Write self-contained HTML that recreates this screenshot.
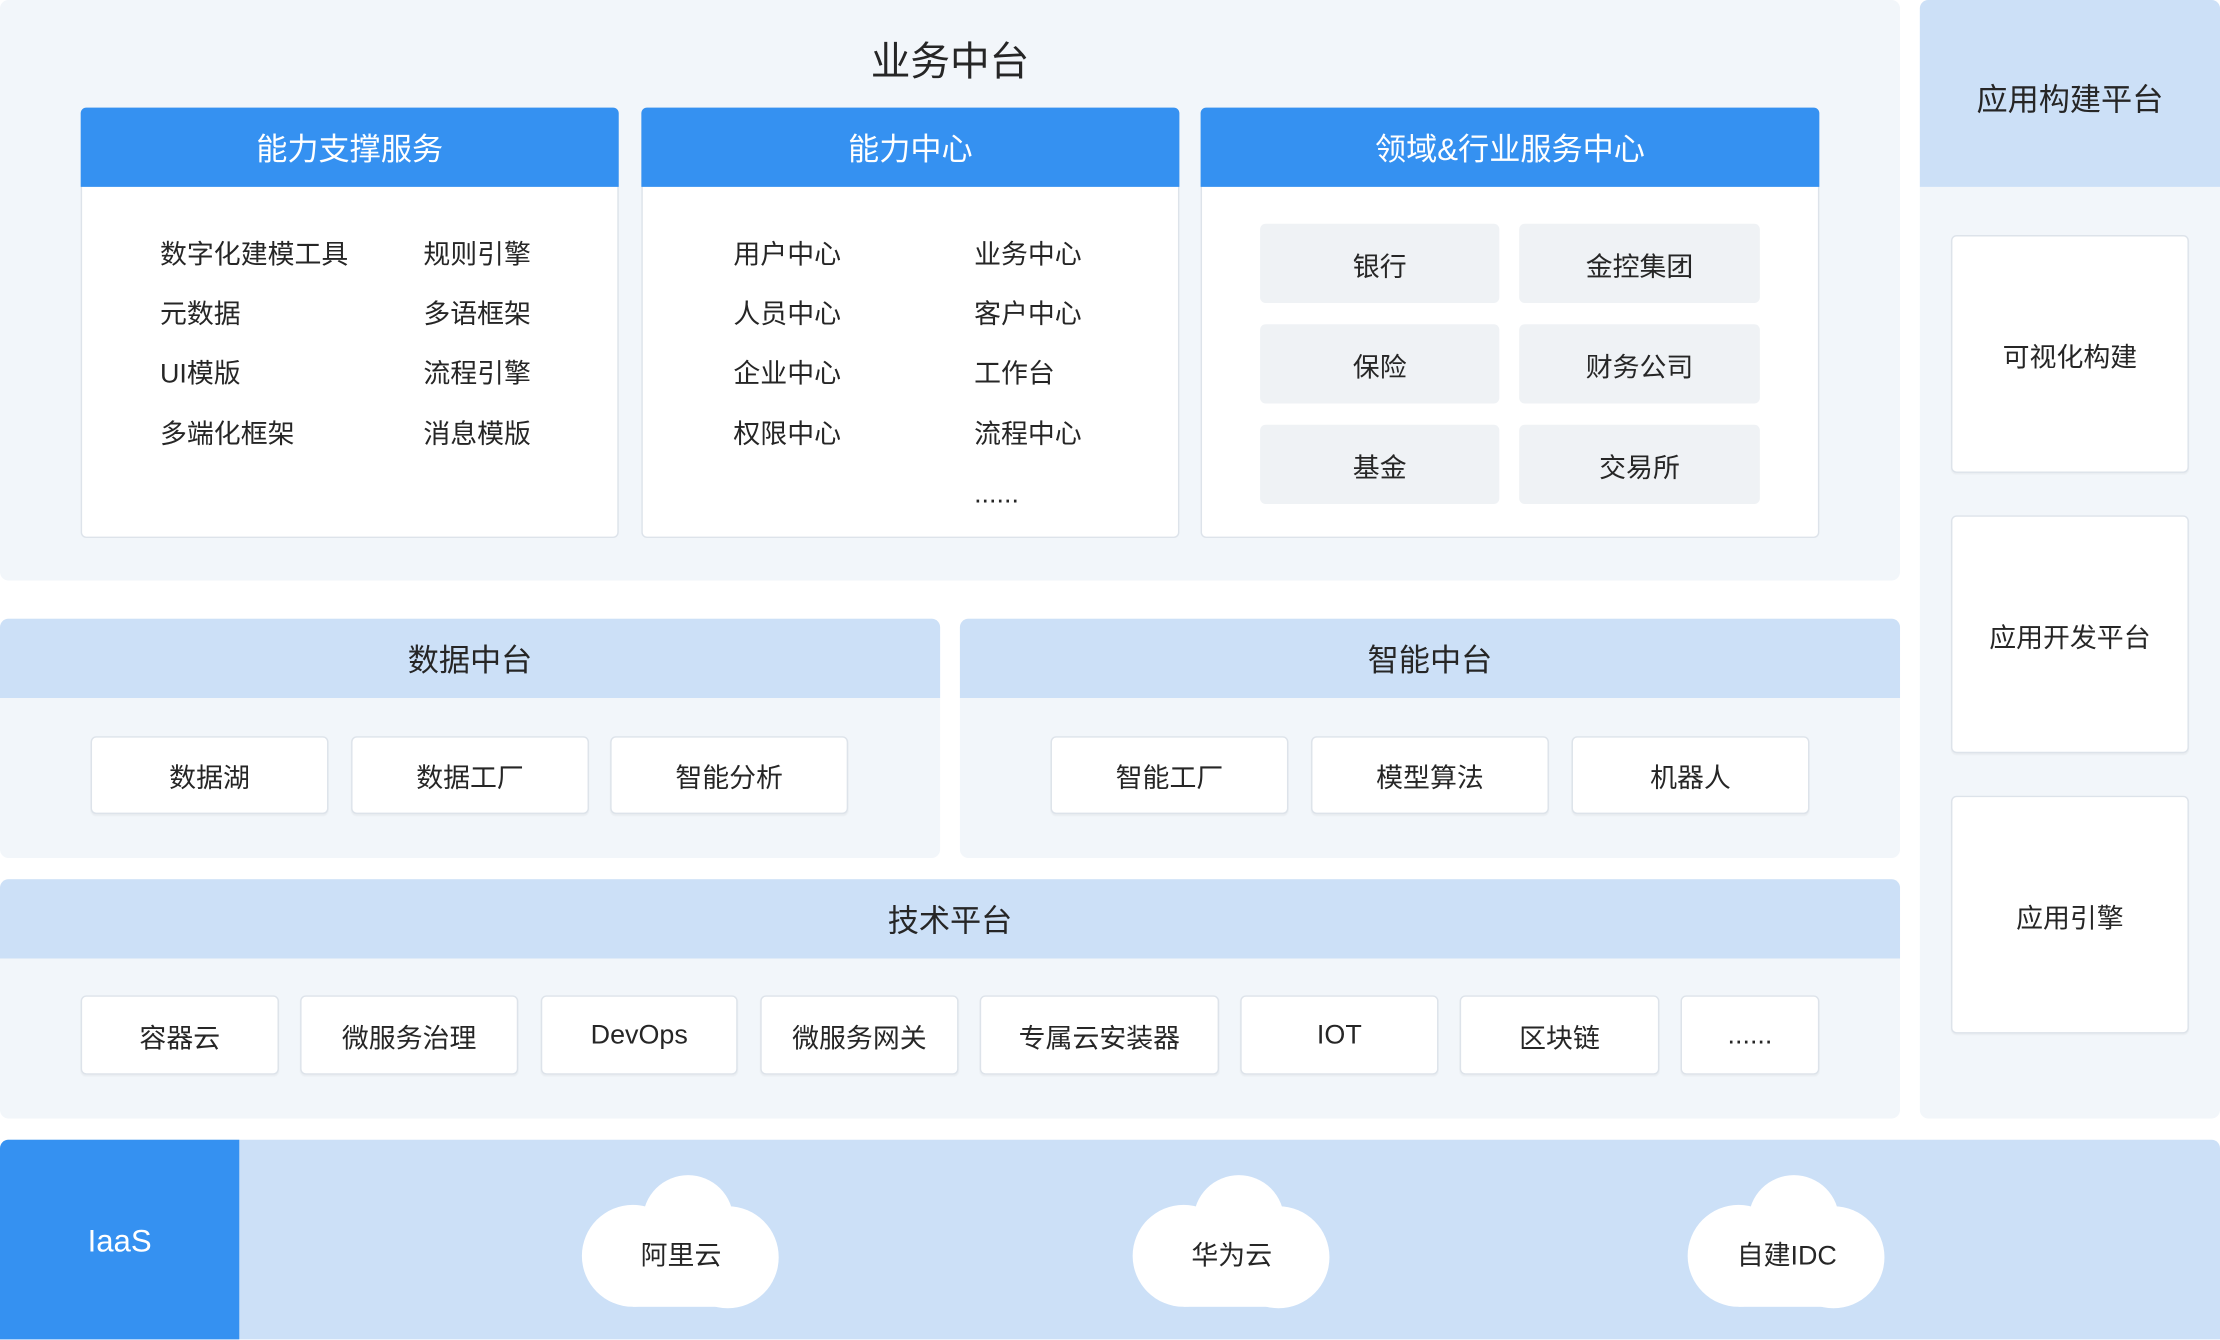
<!DOCTYPE html>
<html><head><meta charset="utf-8"><style>
body{margin:0;width:2220px;height:1340px;overflow:hidden;background:#fff;}
#c{position:absolute;left:0;top:0;width:1568px;height:946px;transform:scale(1.41582);transform-origin:0 0;font-family:"Liberation Sans","Noto Sans CJK SC",sans-serif;color:#262626;}
.a{position:absolute;box-sizing:border-box;}
.p{background:#f2f6fa;border-radius:6px;}
.h{background:#cce0f7;display:flex;align-items:center;justify-content:center;font-size:22px;}
.bh{background:#3591f1;color:#fff;display:flex;align-items:center;justify-content:center;font-size:22px;border-radius:4px 4px 0 0;}
.card{background:#fff;border:1px solid #dde3ea;border-radius:4px;}
.b{background:#fff;border:1px solid #dde3ea;border-radius:4px;display:flex;align-items:center;justify-content:center;font-size:19px;box-shadow:0 1px 1px rgba(0,0,0,.04);padding-top:2px;}
.g{background:#eff2f5;border-radius:4px;display:flex;align-items:center;justify-content:center;font-size:19px;padding-top:2px;}
.t{position:absolute;font-size:19px;line-height:24px;transform:translateY(-9px);white-space:nowrap;}
</style></head><body><div id="c">
<div class="a p" style="left:0;top:0;width:1342px;height:410px"></div>
<div class="a" style="left:0;top:22px;width:1342px;text-align:center;font-size:28px">业务中台</div>

<div class="a card" style="left:57px;top:76px;width:380px;height:304px"></div>
<div class="a bh" style="left:57px;top:76px;width:380px;height:56px">能力支撑服务</div>
<div class="t" style="left:113px;top:178px">数字化建模工具</div><div class="t" style="left:299px;top:178px">规则引擎</div>
<div class="t" style="left:113px;top:220px">元数据</div><div class="t" style="left:299px;top:220px">多语框架</div>
<div class="t" style="left:113px;top:262px">UI模版</div><div class="t" style="left:299px;top:262px">流程引擎</div>
<div class="t" style="left:113px;top:305px">多端化框架</div><div class="t" style="left:299px;top:305px">消息模版</div>

<div class="a card" style="left:453px;top:76px;width:380px;height:304px"></div>
<div class="a bh" style="left:453px;top:76px;width:380px;height:56px">能力中心</div>
<div class="t" style="left:518px;top:178px">用户中心</div><div class="t" style="left:688px;top:178px">业务中心</div>
<div class="t" style="left:518px;top:220px">人员中心</div><div class="t" style="left:688px;top:220px">客户中心</div>
<div class="t" style="left:518px;top:262px">企业中心</div><div class="t" style="left:688px;top:262px">工作台</div>
<div class="t" style="left:518px;top:305px">权限中心</div><div class="t" style="left:688px;top:305px">流程中心</div>
<div class="t" style="left:688px;top:347px">......</div>

<div class="a card" style="left:848px;top:76px;width:437px;height:304px"></div>
<div class="a bh" style="left:848px;top:76px;width:437px;height:56px">领域&amp;行业服务中心</div>
<div class="a g" style="left:890px;top:158px;width:169px;height:56px">银行</div>
<div class="a g" style="left:1073px;top:158px;width:170px;height:56px">金控集团</div>
<div class="a g" style="left:890px;top:229px;width:169px;height:56px">保险</div>
<div class="a g" style="left:1073px;top:229px;width:170px;height:56px">财务公司</div>
<div class="a g" style="left:890px;top:300px;width:169px;height:56px">基金</div>
<div class="a g" style="left:1073px;top:300px;width:170px;height:56px">交易所</div>

<div class="a p" style="left:1356px;top:0;width:212px;height:790px"></div>
<div class="a h" style="left:1356px;top:0;width:212px;height:132px;border-radius:6px 6px 0 0;padding-top:6px">应用构建平台</div>
<div class="a b" style="left:1378px;top:166px;width:168px;height:168px">可视化构建</div>
<div class="a b" style="left:1378px;top:364px;width:168px;height:168px">应用开发平台</div>
<div class="a b" style="left:1378px;top:562px;width:168px;height:168px">应用引擎</div>

<div class="a p" style="left:0;top:437px;width:664px;height:169px"></div>
<div class="a h" style="left:0;top:437px;width:664px;height:56px;border-radius:6px 6px 0 0">数据中台</div>
<div class="a b" style="left:64px;top:520px;width:168px;height:55px">数据湖</div>
<div class="a b" style="left:248px;top:520px;width:168px;height:55px">数据工厂</div>
<div class="a b" style="left:431px;top:520px;width:168px;height:55px">智能分析</div>

<div class="a p" style="left:678px;top:437px;width:664px;height:169px"></div>
<div class="a h" style="left:678px;top:437px;width:664px;height:56px;border-radius:6px 6px 0 0">智能中台</div>
<div class="a b" style="left:742px;top:520px;width:168px;height:55px">智能工厂</div>
<div class="a b" style="left:926px;top:520px;width:168px;height:55px">模型算法</div>
<div class="a b" style="left:1110px;top:520px;width:168px;height:55px">机器人</div>

<div class="a p" style="left:0;top:621px;width:1342px;height:169px"></div>
<div class="a h" style="left:0;top:621px;width:1342px;height:56px;border-radius:6px 6px 0 0">技术平台</div>
<div class="a b" style="left:57px;top:703px;width:140px;height:56px">容器云</div>
<div class="a b" style="left:212px;top:703px;width:154px;height:56px">微服务治理</div>
<div class="a b" style="left:382px;top:703px;width:139px;height:56px">DevOps</div>
<div class="a b" style="left:537px;top:703px;width:140px;height:56px">微服务网关</div>
<div class="a b" style="left:692px;top:703px;width:169px;height:56px">专属云安装器</div>
<div class="a b" style="left:876px;top:703px;width:140px;height:56px">IOT</div>
<div class="a b" style="left:1031px;top:703px;width:141px;height:56px">区块链</div>
<div class="a b" style="left:1187px;top:703px;width:98px;height:56px">......</div>

<div class="a" style="left:0;top:805px;width:1568px;height:141px;background:#cce0f7;border-radius:6px 6px 0 0"></div>
<div class="a" style="left:0;top:805px;width:169px;height:141px;background:#3591f1;color:#fff;font-size:22px;display:flex;align-items:center;justify-content:center;border-radius:6px 0 0 0;padding-top:3px">IaaS</div>
<svg class="a" style="left:0;top:0" width="1568" height="946">
<defs><g id="cl" fill="#fff"><circle cx="76" cy="62" r="32"/><circle cx="37" cy="87" r="36"/><circle cx="104" cy="88" r="36"/><rect x="37" y="60" width="67" height="63"/></g></defs>
<use href="#cl" x="410" y="800"/><use href="#cl" x="799" y="800"/><use href="#cl" x="1191" y="800"/>
<g font-family="Liberation Sans,Noto Sans CJK SC,sans-serif" font-size="19" fill="#262626" text-anchor="middle">
<text x="481" y="893">阿里云</text><text x="870" y="893">华为云</text><text x="1262" y="893">自建IDC</text></g>
</svg>
</div></body></html>
